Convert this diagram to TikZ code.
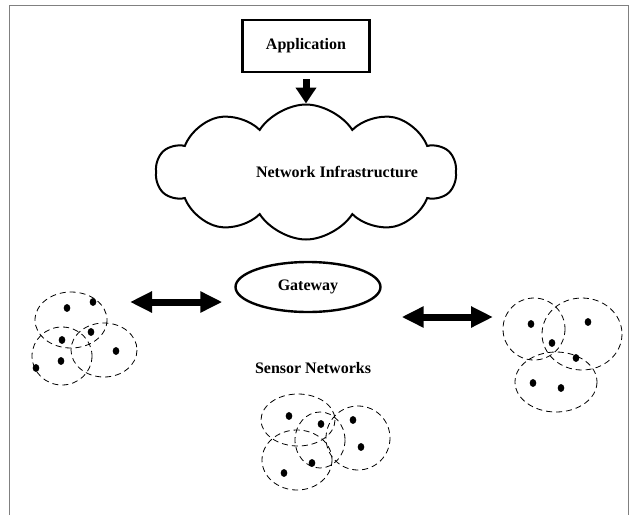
\documentclass[tikz,border=0pt]{standalone}
\usepackage{fontspec}
\setmainfont{Liberation Serif}
\usetikzlibrary{arrows.meta,shapes.symbols,shapes.geometric}

\tikzset{
  lbl/.style={font=\fontsize{16}{18}\selectfont\bfseries},
  bigarrow/.style={line width=7pt,-{Triangle[length=16pt,width=20pt]}},
  bigboth/.style={line width=7pt,{Triangle[length=22pt,width=20pt]}-{Triangle[length=22pt,width=20pt]}},
  zone/.style={dash pattern=on 6pt off 4pt,line width=0.8pt}
}

\begin{document}
\begin{tikzpicture}[x=1pt,y=-1pt]
  \useasboundingbox (0,0) rectangle (633,515);
  \draw[gray,line width=0.8pt] (9,515) -- (9,5) -- (628,5) -- (628,515);
  \node[draw,line width=2.6pt,minimum width=127pt,minimum height=52pt,lbl] (app) at (306,46) {Application};
  \node[cloud,draw,line width=2pt,cloud puffs=10,cloud puff arc=115,cloud ignores aspect,minimum width=300pt,minimum height=135pt] (net) at (306,172) {};
  \node[lbl] (netlbl) at (337,172) {Network Infrastructure};
  \draw[bigarrow,shorten <=6pt] (app.south) -- (net.north);
  \node[ellipse,draw,line width=2.4pt,minimum width=145pt,minimum height=50pt,lbl] (gw) at (308,287) {Gateway};
  \node[lbl] (sn) at (313,368) {Sensor Networks};
  \coordinate (lnet) at (130,302);
  \coordinate (rnet) at (493,317);
  \draw[bigboth,shorten >=12pt] (lnet) -- (lnet -| gw.west);
  \draw[bigboth,shorten <=20pt] (rnet -| gw.east) -- (rnet);
  \foreach \cx/\cy/\rx/\ry in {71/320/36/28, 62/356/30/29, 104/350/33/27, 534/329/31/31, 582/334/40/36, 556/382/41/30, 298/420/37/26, 320/440/25/28, 358/438/32/32, 297/460/35/30}
    \draw[zone] (\cx,\cy) ellipse [x radius=\rx,y radius=\ry];
  \foreach \mx/\my in {67/308, 93/302, 91/332, 62/340, 61/361, 36/368, 116/351, 531/324, 588/322, 552/343, 576/358, 533/383, 561/388, 289/416, 321/424, 353/420, 361/447, 312/463, 284/473}
    \fill (\mx,\my) ellipse [x radius=3.3,y radius=3.9];
\end{tikzpicture}
\end{document}
